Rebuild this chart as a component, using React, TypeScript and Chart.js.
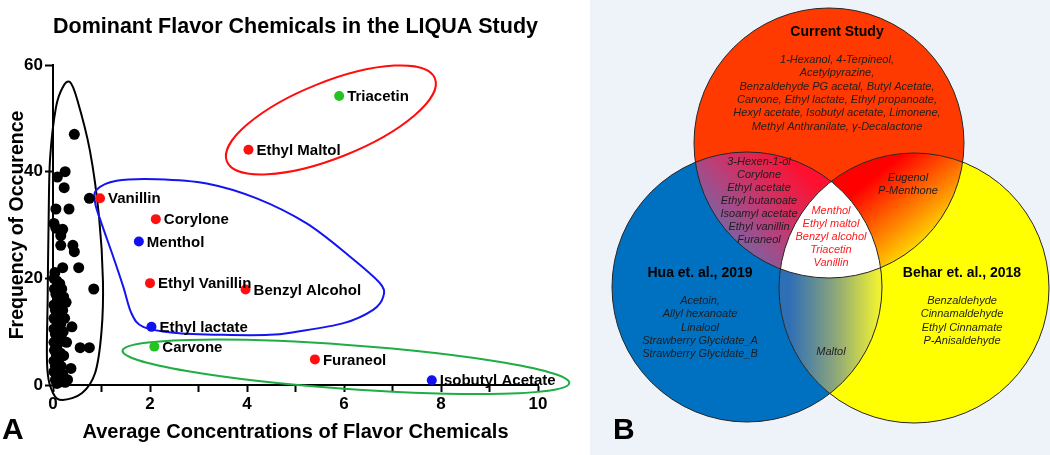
import React, { useEffect, useRef } from 'react';
import { Chart, registerables } from 'chart.js';

Chart.register(...registerables);

const FONT = "'Liberation Sans', Arial, Helvetica, sans-serif";

// ---------------- Panel A data ----------------
const chartTitle = 'Dominant Flavor Chemicals in the LIQUA Study';
const xTitle = 'Average Concentrations of Flavor Chemicals';
const yTitle = 'Frequency of Occurence';
const xRange = [0, 10];
const yRange = [0, 60];
const xMajorStep = 2;
const yMajorStep = 20;

// unlabelled (black) chemicals
const otherX = [
  0.44, 0.25, 0.09, 0.23, 0.75, 0.06, 0.33, 0.02, 0.06, 0.2, 0.16, 0.16, 0.41, 0.44, 0.2, 0.53, 0.04, 0.84, 0.39, 0.56, 0.75, 0.37,
  0.02, 0.08, 0.14, 0.03, 0.18, 0.06, 0.22, 0.1, 0.02, 0.15, 0.27, 0.05, 0.2, 0.11, 0.02, 0.24, 0.07, 0.16, 0.02, 0.12,
  0.21, 0.05, 0.14, 0.02, 0.19, 0.09, 0.28, 0.03, 0.15, 0.07, 0.22, 0.02, 0.11, 0.05, 0.17, 0.02, 0.1, 0.2, 0.05, 0.3,
  0.12, 0.25, 0.08,
];
const otherY = [
  47, 40, 39, 37, 35, 33, 33, 30.3, 29.4, 29.2, 28, 26.2, 26.2, 25, 22, 22, 21.1, 18, 10.9, 7, 7, 3.1,
  20, 19.5, 19, 18, 18, 17, 16.5, 16, 15, 15, 15.5, 14, 14, 13, 12.5, 12.5, 12, 11.5, 10.5, 10.5,
  10, 9.5, 9, 8, 8.5, 7.5, 8, 6.5, 6, 5.5, 5.5, 4.5, 4.5, 3.5, 3.5, 2.5, 2, 2, 1, 1,
  0.5, 0.5, 0.3,
];

// labelled chemicals
const namedChemicals = ['Triacetin', 'Ethyl Maltol', 'Vanillin', 'Corylone', 'Menthol', 'Ethyl Vanillin', 'Benzyl Alcohol', 'Ethyl lactate', 'Carvone', 'Furaneol', 'Isobutyl Acetate'];
const namedX = [5.9, 4.03, 0.97, 2.12, 1.77, 2.0, 3.97, 2.03, 2.09, 5.4, 7.81];
const namedY = [54.2, 44.1, 35.0, 31.1, 26.9, 19.1, 17.9, 10.9, 7.2, 4.8, 0.9];
const namedGroup = ['green', 'red', 'red', 'red', 'blue', 'red', 'red', 'blue', 'green', 'red', 'blue'];

// grouping outlines (data coordinates)
const blackOutlineX = [0.35, 0.5, 0.76, 0.95, 1.03, 1.0, 0.87, 0.6, 0.2, 0.0, -0.12, -0.11, -0.09, -0.06, 0.06, 0.2];
const blackOutlineY = [56.8, 53.5, 44.0, 31.5, 19.5, 10.0, 2.3, -1.5, -2.8, -1.5, 3.5, 16.5, 31.0, 42.5, 52.0, 55.8];
const blueOutlineX = [0.9, 1.31, 2.14, 3.17, 4.2, 5.23, 6.12, 6.74, 6.81, 6.6, 5.99, 5.02, 4.47, 3.51, 2.48, 1.86, 1.62, 1.45, 1.24, 1.0, 0.87];
const blueOutlineY = [36.6, 38.3, 38.6, 37.8, 35.0, 30.3, 24.1, 19.1, 16.6, 14.1, 11.6, 10.0, 9.4, 9.4, 9.8, 10.9, 13.4, 18.4, 24.1, 30.3, 34.1];
const ellipseNames = ['red', 'green'];
const ellipseCenterX = [5.73, 6.04];
const ellipseCenterY = [49.7, 3.4];

// ---------------- Panel B data ----------------
const vennTitles = ['Current Study', 'Hua et. al., 2019', 'Behar et. al., 2018'];
const vennCenterX = [829, 747, 914];
const vennCenterY = [143, 287, 288];
const vennRadius = [135, 135, 135];
const onlyCurrent = [
  '1-Hexanol, 4-Terpineol,',
  'Acetylpyrazine,',
  'Benzaldehyde PG acetal, Butyl Acetate,',
  'Carvone, Ethyl lactate, Ethyl propanoate,',
  'Hexyl acetate, Isobutyl acetate, Limonene,',
  'Methyl Anthranilate, \u03b3-Decalactone',
];
const currentAndHua = ['3-Hexen-1-ol', 'Corylone', 'Ethyl acetate', 'Ethyl butanoate', 'Isoamyl acetate', 'Ethyl vanillin', 'Furaneol'];
const currentAndBehar = ['Eugenol', 'P-Menthone'];
const inAllThree = ['Menthol', 'Ethyl maltol', 'Benzyl alcohol', 'Triacetin', 'Vanillin'];
const onlyHua = ['Acetoin,', 'Allyl hexanoate', 'Linalool', 'Strawberry Glycidate_A', 'Strawberry Glycidate_B'];
const onlyBehar = ['Benzaldehyde', 'Cinnamaldehyde', 'Ethyl Cinnamate', 'P-Anisaldehyde'];
const huaAndBehar = ['Maltol'];

// ---------------- styles ----------------
const DOT_COLORS: Record<string, string> = { red: '#ff1010', blue: '#1010f0', green: '#22c322' };
const LINE_COLORS: Record<string, string> = { black: '#000000', red: '#ff0d0d', blue: '#1414f0', green: '#1fae45' };
const ELLIPSE_GEOM: Record<string, { rx: number; ry: number; rot: number }> = {
  red: { rx: 112, ry: 38, rot: -0.38 },
  green: { rx: 224, ry: 22, rot: 0.072 },
};
const VENN_FILL = ['#ff3a00', '#0070c0', '#ffff00'];
const PANEL_BG = '#eef2f9';

function closedSpline(ctx: CanvasRenderingContext2D, pts: number[][]) {
  const n = pts.length;
  ctx.beginPath();
  ctx.moveTo(pts[0][0], pts[0][1]);
  for (let i = 0; i < n; i++) {
    const p0 = pts[(i - 1 + n) % n];
    const p1 = pts[i];
    const p2 = pts[(i + 1) % n];
    const p3 = pts[(i + 2) % n];
    ctx.bezierCurveTo(
      p1[0] + (p2[0] - p0[0]) / 6, p1[1] + (p2[1] - p0[1]) / 6,
      p2[0] - (p3[0] - p1[0]) / 6, p2[1] - (p3[1] - p1[1]) / 6,
      p2[0], p2[1]
    );
  }
  ctx.closePath();
}

const annotationsA = {
  id: 'annotationsA',
  beforeDatasetsDraw(chart: any) {
    const { ctx, scales } = chart;
    const x = scales.x, y = scales.y;
    ctx.save();
    ctx.lineWidth = 2;
    const bp = blackOutlineX.map((v, i) => [x.getPixelForValue(v), y.getPixelForValue(blackOutlineY[i])]);
    closedSpline(ctx, bp);
    ctx.strokeStyle = LINE_COLORS.black;
    ctx.stroke();
    const bl = blueOutlineX.map((v, i) => [x.getPixelForValue(v), y.getPixelForValue(blueOutlineY[i])]);
    closedSpline(ctx, bl);
    ctx.strokeStyle = LINE_COLORS.blue;
    ctx.stroke();
    ellipseNames.forEach((name, i) => {
      const g = ELLIPSE_GEOM[name];
      ctx.beginPath();
      ctx.ellipse(x.getPixelForValue(ellipseCenterX[i]), y.getPixelForValue(ellipseCenterY[i]), g.rx, g.ry, g.rot, 0, Math.PI * 2);
      ctx.strokeStyle = LINE_COLORS[name];
      ctx.stroke();
    });
    ctx.restore();
  },
  afterDatasetsDraw(chart: any) {
    const { ctx, scales } = chart;
    const x = scales.x, y = scales.y;
    ctx.save();
    ctx.fillStyle = '#000';
    ctx.font = `bold 15px ${FONT}`;
    ctx.textAlign = 'left';
    ctx.textBaseline = 'middle';
    namedChemicals.forEach((name, i) => {
      ctx.fillText(name, x.getPixelForValue(namedX[i]) + 8, y.getPixelForValue(namedY[i]) + 1);
    });
    ctx.font = `bold 30px ${FONT}`;
    ctx.fillText('A', 2, 431);
    ctx.restore();
  },
};

const vennPlugin = {
  id: 'vennPlugin',
  beforeDraw(chart: any) {
    const { ctx, width, height } = chart;
    ctx.save();
    ctx.fillStyle = PANEL_BG;
    ctx.fillRect(0, 0, width, height);
    ctx.restore();
  },
  afterDatasetsDraw(chart: any) {
    const { ctx, scales } = chart;
    const x = scales.x, y = scales.y;
    const c = vennCenterX.map((v, i) => ({ x: x.getPixelForValue(v), y: y.getPixelForValue(vennCenterY[i]), r: vennRadius[i] }));
    const clip = (k: number) => {
      ctx.beginPath();
      ctx.arc(c[k].x, c[k].y, c[k].r, 0, Math.PI * 2);
      ctx.clip();
    };
    const px = (v: number) => x.getPixelForValue(v);
    const py = (v: number) => y.getPixelForValue(v);
    const fillAll = (style: any) => {
      ctx.fillStyle = style;
      ctx.fillRect(0, 0, chart.width, chart.height);
    };
    ctx.save();
    clip(0); clip(1);
    let g = ctx.createLinearGradient(px(712), py(252), px(800), py(168));
    g.addColorStop(0, '#5a74b8');
    g.addColorStop(0.5, '#b8407a');
    g.addColorStop(1, '#ff1030');
    fillAll(g);
    ctx.restore();
    ctx.save();
    clip(0); clip(2);
    g = ctx.createLinearGradient(px(868), py(182), px(928), py(258));
    g.addColorStop(0, '#ff0000');
    g.addColorStop(0.55, '#ff8a00');
    g.addColorStop(1, '#ffff00');
    fillAll(g);
    ctx.restore();
    ctx.save();
    clip(1); clip(2);
    g = ctx.createLinearGradient(px(790), 0, px(878), 0);
    g.addColorStop(0, '#2f6fb6');
    g.addColorStop(0.5, '#8aa47c');
    g.addColorStop(1, '#eef034');
    fillAll(g);
    ctx.restore();
    ctx.save();
    clip(0); clip(1); clip(2);
    fillAll('#ffffff');
    ctx.restore();
    ctx.save();
    ctx.strokeStyle = '#262626';
    ctx.lineWidth = 1;
    c.forEach((cc) => {
      ctx.beginPath();
      ctx.arc(cc.x, cc.y, cc.r, 0, Math.PI * 2);
      ctx.stroke();
    });
    ctx.restore();

    ctx.save();
    ctx.textAlign = 'center';
    ctx.textBaseline = 'middle';
    ctx.fillStyle = '#000';
    ctx.font = `bold 14px ${FONT}`;
    ctx.fillText(vennTitles[0], px(837), py(32));
    ctx.fillText(vennTitles[1], px(700), py(273));
    ctx.fillText(vennTitles[2], px(962), py(273));
    const block = (lines: string[], cx: number, y0: number, step: number, color: string) => {
      ctx.fillStyle = color;
      ctx.font = `italic 11px ${FONT}`;
      lines.forEach((t, i) => ctx.fillText(t, px(cx), py(y0 + i * step)));
    };
    block(onlyCurrent, 837, 60, 13.3, '#1e1e1e');
    block(currentAndHua, 759, 162, 13.0, '#1e1e1e');
    block(currentAndBehar, 908, 178, 13.0, '#1e1e1e');
    block(inAllThree, 831, 211, 13.0, '#ff1a1a');
    block(onlyHua, 700, 301, 13.3, '#1e1e1e');
    block(onlyBehar, 962, 301, 13.3, '#1e1e1e');
    block(huaAndBehar, 831, 352, 13.3, '#1e1e1e');
    ctx.textAlign = 'left';
    ctx.fillStyle = '#000';
    ctx.font = `bold 30px ${FONT}`;
    ctx.fillText('B', px(613), py(431));
    ctx.restore();
  },
};

export default function App() {
  const leftRef = useRef<HTMLCanvasElement>(null);
  const rightRef = useRef<HTMLCanvasElement>(null);

  useEffect(() => {
    document.body.style.margin = '0';
    const otherData = otherX.map((v, i) => ({ x: v, y: otherY[i] }));
    const groups = ['red', 'blue', 'green'];
    const namedSets = groups.map((grp) => ({
      label: grp,
      data: namedX.map((v, i) => ({ x: v, y: namedY[i], g: namedGroup[i] })).filter((p) => p.g === grp),
      backgroundColor: DOT_COLORS[grp],
      borderWidth: 0,
      pointRadius: 5,
      clip: false as any,
    }));

    const left = new Chart(leftRef.current!, {
      type: 'scatter',
      data: {
        datasets: [
          { label: 'other', data: otherData, backgroundColor: '#000', borderWidth: 0, pointRadius: 5.5, clip: false as any },
          ...namedSets,
        ],
      },
      options: {
        responsive: false,
        animation: false,
        events: [],
        layout: { autoPadding: false, padding: { left: 0, right: 52, top: 0, bottom: 0 } },
        plugins: {
          legend: { display: false },
          tooltip: { enabled: false },
          title: {
            display: true,
            fullSize: false,
            text: chartTitle,
            color: '#000',
            font: { family: FONT, size: 22, weight: 'bold' },
            padding: { top: 14, bottom: 24.6 },
          },
        },
        scales: {
          x: {
            type: 'linear',
            min: xRange[0],
            max: xRange[1],
            afterFit: (s: any) => { s.height = 70; },
            ticks: {
              stepSize: 1,
              autoSkip: false,
              maxRotation: 0,
              padding: 2,
              color: '#000',
              font: { family: FONT, size: 17, weight: 'bold' },
              callback: (v: any) => (Number(v) % xMajorStep === 0 ? String(v) : ''),
            },
            grid: { drawOnChartArea: false, drawTicks: true, tickLength: 7, tickWidth: 2, tickColor: '#000', color: '#000' },
            border: { display: true, color: '#000', width: 2 },
            title: { display: true, text: xTitle, color: '#000', font: { family: FONT, size: 20, weight: 'bold' }, padding: { top: 0, bottom: 11 } },
          },
          y: {
            type: 'linear',
            min: yRange[0],
            max: yRange[1],
            afterFit: (s: any) => { s.width = 53; },
            ticks: {
              stepSize: yMajorStep,
              padding: 2,
              color: '#000',
              font: { family: FONT, size: 17, weight: 'bold' },
            },
            grid: { drawOnChartArea: false, drawTicks: true, tickLength: 8, tickWidth: 2, tickColor: '#000', color: '#000' },
            border: { display: true, color: '#000', width: 2 },
            title: { display: true, text: yTitle, color: '#000', font: { family: FONT, size: 19.5, weight: 'bold' }, padding: { top: 6.3, bottom: 0 } },
          },
        },
      } as any,
      plugins: [annotationsA],
    });

    const right = new Chart(rightRef.current!, {
      type: 'bubble',
      data: {
        datasets: [
          {
            label: 'sets',
            data: vennCenterX.map((v, i) => ({ x: v, y: vennCenterY[i], r: vennRadius[i] })),
            backgroundColor: VENN_FILL,
            borderWidth: 0,
            clip: false as any,
          },
        ],
      },
      options: {
        responsive: false,
        animation: false,
        events: [],
        layout: { autoPadding: false, padding: 0 },
        plugins: { legend: { display: false }, tooltip: { enabled: false } },
        scales: {
          x: { type: 'linear', min: 590, max: 1050, display: false },
          y: { type: 'linear', min: 0, max: 455, reverse: true, display: false },
        },
      } as any,
      plugins: [vennPlugin],
    });

    return () => {
      left.destroy();
      right.destroy();
    };
  }, []);

  return (
    <div style={{ position: 'absolute', left: 0, top: 0, width: 1050, height: 455, background: '#fff', overflow: 'hidden' }}>
      <canvas ref={leftRef} width={590} height={455} style={{ position: 'absolute', left: 0, top: 0, width: 590, height: 455 }} />
      <canvas ref={rightRef} width={460} height={455} style={{ position: 'absolute', left: 590, top: 0, width: 460, height: 455 }} />
    </div>
  );
}
